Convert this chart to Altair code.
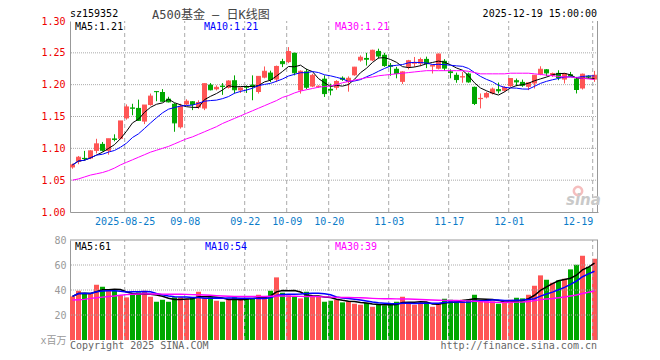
import json
import altair as alt
import pandas as pd

# ---------------- data ----------------
tick_idx = [9, 19, 29, 36, 43, 53, 63, 73, 87]
tick_lbl = ["2025-08-25", "09-08", "09-22", "10-09", "10-20", "11-03", "11-17", "12-01", "12-19"]

opens = [1.070, 1.079, 1.085, 1.084, 1.096, 1.107, 1.096, 1.1155, 1.115, 1.147,
         1.164, 1.1635, 1.142, 1.168, 1.1896, 1.1885, 1.178, 1.170, 1.133, 1.169,
         1.174, 1.164, 1.1625, 1.200, 1.1927, 1.1985, 1.195, 1.207, 1.191, 1.1975,
         1.200, 1.1885, 1.211, 1.219, 1.208, 1.237, 1.2354, 1.250, 1.191, 1.221,
         1.197, 1.1965, 1.2094, 1.1935, 1.195, 1.211, 1.204, 1.2147, 1.238, 1.242,
         1.238, 1.253, 1.247, 1.231, 1.225, 1.2044, 1.228, 1.233, 1.233, 1.2405,
         1.2285, 1.225, 1.2375, 1.221, 1.2155, 1.2115, 1.2175, 1.1966, 1.1773, 1.1799,
         1.1862, 1.193, 1.1904, 1.1976, 1.207, 1.2044, 1.1966, 1.2018, 1.2159, 1.2242,
         1.2138, 1.2185, 1.208, 1.2164, 1.2096, 1.194, 1.2138, 1.208]
highs = [1.076, 1.088, 1.096, 1.097, 1.115, 1.110, 1.115, 1.122, 1.143, 1.169,
         1.170, 1.1765, 1.168, 1.186, 1.190, 1.193, 1.181, 1.171, 1.170, 1.177,
         1.174, 1.1755, 1.202, 1.2025, 1.199, 1.2025, 1.207, 1.2146, 1.196, 1.199,
         1.2146, 1.213, 1.2286, 1.222, 1.230, 1.2406, 1.259, 1.2505, 1.2224, 1.225,
         1.217, 1.199, 1.2146, 1.2015, 1.207, 1.213, 1.213, 1.228, 1.246, 1.250,
         1.255, 1.2565, 1.250, 1.234, 1.228, 1.221, 1.239, 1.2435, 1.2425, 1.244,
         1.232, 1.249, 1.240, 1.224, 1.219, 1.220, 1.219, 1.197, 1.1862, 1.1888,
         1.1955, 1.2034, 1.1976, 1.2096, 1.2096, 1.208, 1.2034, 1.215, 1.2289, 1.2245,
         1.219, 1.2226, 1.2185, 1.220, 1.2122, 1.2174, 1.2148, 1.2216]
lows = [1.068, 1.075, 1.081, 1.083, 1.092, 1.095, 1.090, 1.111, 1.114, 1.145,
        1.152, 1.143, 1.138, 1.167, 1.174, 1.173, 1.172, 1.126, 1.131, 1.168,
        1.160, 1.162, 1.160, 1.191, 1.191, 1.184, 1.194, 1.186, 1.187, 1.187,
        1.1755, 1.186, 1.210, 1.204, 1.204, 1.2276, 1.2338, 1.2146, 1.186, 1.193,
        1.196, 1.195, 1.1807, 1.1833, 1.192, 1.206, 1.189, 1.214, 1.236, 1.230,
        1.237, 1.241, 1.228, 1.214, 1.210, 1.201, 1.224, 1.228, 1.229, 1.226,
        1.2175, 1.224, 1.222, 1.210, 1.203, 1.203, 1.203, 1.168, 1.1627, 1.1784,
        1.1846, 1.1862, 1.1888, 1.1966, 1.1976, 1.1966, 1.1914, 1.194, 1.2148, 1.2133,
        1.212, 1.207, 1.2018, 1.2123, 1.1862, 1.1924, 1.2096, 1.2044]
closes = [1.074, 1.086, 1.084, 1.096, 1.107, 1.097, 1.115, 1.114, 1.143, 1.165,
          1.163, 1.144, 1.168, 1.182, 1.189, 1.174, 1.173, 1.140, 1.166, 1.174,
          1.169, 1.172, 1.2015, 1.192, 1.1958, 1.197, 1.2057, 1.192, 1.1948, 1.196,
          1.197, 1.213, 1.221, 1.208, 1.2286, 1.233, 1.252, 1.2187, 1.221, 1.196,
          1.2146, 1.1975, 1.186, 1.1915, 1.205, 1.2085, 1.210, 1.2275, 1.243, 1.240,
          1.254, 1.245, 1.230, 1.229, 1.2175, 1.220, 1.2375, 1.2345, 1.2395, 1.233,
          1.230, 1.248, 1.226, 1.219, 1.208, 1.2125, 1.2044, 1.1705, 1.1784, 1.1862,
          1.193, 1.1904, 1.1956, 1.2096, 1.2044, 1.1992, 1.2028, 1.2148, 1.2242, 1.2185,
          1.2174, 1.2112, 1.2174, 1.2133, 1.1924, 1.2164, 1.2122, 1.2148]
volumes = [34.9, 39.4, 37.6, 36.8, 44.2, 42.6, 40.2, 39.4, 35.7, 34.1,
           36.8, 38.1, 39.4, 34.6, 30.6, 32.2, 30.6, 34.1, 34.1, 32.8,
           33.6, 38.6, 33.6, 34.1, 31.4, 30.6, 32.8, 34.1, 32.2, 33.6,
           32.8, 36.2, 34.1, 39.4, 50.1, 37.8, 35.7, 34.9, 33.3, 38.6,
           34.6, 34.6, 30.6, 31.4, 32.2, 30.1, 30.9, 29.0, 28.2, 29.6,
           26.6, 29.0, 27.7, 28.2, 30.6, 34.6, 29.6, 28.2, 29.6, 30.1,
           26.6, 28.8, 33.0, 32.2, 31.7, 32.2, 32.2, 36.2, 31.4, 30.9,
           30.9, 29.0, 29.6, 32.2, 33.8, 33.3, 36.2, 43.4, 51.7, 48.2,
           45.8, 47.7, 49.0, 56.5, 60.2, 67.4, 58.6, 65.0]
price_ma30 = [1.050, 1.052, 1.055, 1.058, 1.060, 1.062, 1.065, 1.069, 1.074, 1.078,
              1.082, 1.086, 1.090, 1.094, 1.097, 1.100, 1.103, 1.107, 1.111, 1.115,
              1.118, 1.122, 1.126, 1.130, 1.134, 1.139, 1.143, 1.147, 1.151, 1.155,
              1.159, 1.163, 1.167, 1.171, 1.175, 1.180, 1.183, 1.187, 1.190, 1.192,
              1.194, 1.196, 1.197, 1.198, 1.200, 1.203, 1.205, 1.207, 1.209, 1.211,
              1.212, 1.214, 1.215, 1.216, 1.217, 1.218, 1.219, 1.220, 1.221, 1.222,
              1.222, 1.222, 1.222, 1.222, 1.222, 1.222, 1.221, 1.219, 1.217, 1.217,
              1.217, 1.217, 1.217, 1.218, 1.218, 1.218, 1.218, 1.217, 1.216, 1.215,
              1.214, 1.213, 1.212, 1.212, 1.211, 1.210, 1.209, 1.208]
volume_ma30 = [32.0, 32.2, 32.5, 33.3, 33.8, 34.3, 34.8, 35.2, 35.8, 36.3,
               36.6, 36.8, 36.9, 36.9, 36.8, 36.7, 36.7, 36.6, 36.6, 36.5,
               36.3, 36.2, 36.0, 35.8, 35.5, 35.2, 35.0, 34.9, 34.9, 34.9,
               34.9, 34.9, 34.9, 35.0, 35.2, 35.2, 35.1, 35.0, 34.9, 34.9,
               34.8, 34.7, 34.5, 34.3, 34.1, 34.0, 34.0, 33.9, 33.8, 33.6,
               33.3, 33.1, 33.0, 33.0, 32.9, 32.9, 32.8, 32.6, 32.4, 32.2,
               32.0, 31.8, 31.7, 31.7, 31.6, 31.5, 31.3, 31.0, 30.7, 30.4,
               30.2, 30.1, 30.1, 30.2, 30.3, 30.4, 30.8, 31.5, 32.3, 32.8,
               33.2, 33.8, 34.4, 35.2, 36.0, 37.2, 38.2, 39.2]
price_ticks = [1.00, 1.05, 1.10, 1.15, 1.20, 1.25, 1.30]
volume_ticks = [0, 20, 40, 60, 80]

# ---------------- styles ----------------
RED = "#ff5555"
GREEN = "#00a800"
GRID = "#aaaaaa"
FRAME = "#999999"
BLUE_LBL = "#0a7cc9"
MAG = "#ff00ff"
MONO = "DejaVu Sans Mono, Noto Sans CJK SC"

n = len(opens)
df = pd.DataFrame({
    "i": list(range(n)), "o": opens, "h": highs, "l": lows, "c": closes,
    "v": volumes, "pma30": price_ma30, "vma30": volume_ma30,
})
df["dir"] = ["up" if c >= o else "down" for o, c in zip(opens, closes)]

HALF = 5 / 12
xs = alt.Scale(domain=[-HALF, n - HALF], nice=False, zero=False, padding=0)
py = alt.Scale(domain=[1.0, 1.3], range=[191, 0], nice=False, zero=False)
vy = alt.Scale(domain=[0, 80], range=[319, 219], nice=False, zero=False)

col = alt.Color("dir:N", scale=alt.Scale(domain=["up", "down"], range=[RED, GREEN]), legend=None)
X = alt.X("i:Q", scale=xs)

gx = [t - 0.3 for t in tick_idx]
label_expr = f"{json.dumps(tick_lbl)}[indexof({json.dumps(tick_idx)}, round(datum.value + 0.3))]"

xaxis = alt.Axis(values=gx, labelExpr=label_expr, orient="bottom", offset=-128, grid=False,
                 ticks=False, labelPadding=4, labelColor=BLUE_LBL, labelFont=MONO, labelFontSize=10,
                 domainColor=FRAME, title=None, labelFlush=10, labelOverlap=False)
yaxis_p = alt.Axis(values=price_ticks, format=".2f", orient="left", grid=False, ticks=False,
                   labelPadding=5, labelColor="#ee0000", labelFont=MONO, labelFontSize=10,
                   domainColor=FRAME, title=None)
yaxis_v = alt.Axis(values=volume_ticks, orient="left", grid=False, ticks=False, labelPadding=4,
                   labelColor="#999999", labelFont=MONO, labelFontSize=10,
                   labelExpr="datum.value == 0 ? 'x百万' : datum.label",
                   domainColor=FRAME, title=None)

grid_df = pd.DataFrame({"gx": gx, "plo": 1.0, "phi": 1.3, "vlo": 0, "vhi": 80})
edge_df = pd.DataFrame({"ex": [n - 0.5], "plo": [1.0], "phi": [1.3], "vlo": [0], "vhi": [80]})


def label(text, x, y, color="#000000", align="left", size=10, font=MONO, **kw):
    return alt.Chart(pd.DataFrame({"t": [text]})).mark_text(
        align=align, baseline="alphabetic", fontSize=size, font=font, color=color, **kw
    ).encode(x=alt.value(x), y=alt.value(y), text="t:N")


base = alt.Chart(df)

# ---------------- price panel ----------------
wick = base.mark_rule(strokeWidth=1).encode(
    x=X, y=alt.Y("l:Q", scale=py, axis=yaxis_p), y2="h:Q", color=col)
p_vgrid = alt.Chart(grid_df).mark_rule(color=GRID, strokeDash=[4, 3]).encode(
    x=alt.X("gx:Q", scale=xs, axis=xaxis),
    y=alt.Y("plo:Q", scale=py), y2="phi:Q")
p_hgrid = alt.Chart(pd.DataFrame({"p": price_ticks[1:-1]})).mark_rule(
    color=GRID, strokeDash=[1, 1]).encode(y=alt.Y("p:Q", scale=py))
p_edge = alt.Chart(edge_df).mark_rule(color=FRAME).encode(
    x=alt.X("ex:Q", scale=xs), y=alt.Y("plo:Q", scale=py), y2="phi:Q")

body = base.mark_bar(size=5).encode(
    x=X, y=alt.Y("o:Q", scale=py), y2="c:Q", color=col)
doji = base.transform_calculate(xa="datum.i - 5/12", xb="datum.i + 5/12").mark_rule(strokeWidth=1).encode(
    x=alt.X("xa:Q", scale=xs), x2="xb:Q",
    y=alt.Y("c:Q", scale=py), color=col)

ma5 = base.transform_window(m="mean(c)", frame=[-4, 0], sort=[alt.SortField("i")]).mark_line(
    color="#000000", strokeWidth=1).encode(x=X, y=alt.Y("m:Q", scale=py))
ma10 = base.transform_window(m="mean(c)", frame=[-9, 0], sort=[alt.SortField("i")]).mark_line(
    color="#0000ff", strokeWidth=1).encode(x=X, y=alt.Y("m:Q", scale=py))
ma30 = base.mark_line(color=MAG, strokeWidth=1).encode(
    x=X, y=alt.Y("pma30:Q", scale=py))

logo_ring = alt.Chart(pd.DataFrame({"t": [0]})).mark_point(
    shape="circle", size=70, filled=False, stroke="#f2a3a3", strokeWidth=2.5).encode(
    x=alt.value(508), y=alt.value(170))
logo_txt = label("sina", 496, 184, color="#c9c9c9", size=15, font="DejaVu Sans",
                 fontStyle="italic", fontWeight="bold")

price = alt.layer(
    wick, p_vgrid, p_hgrid, p_edge, logo_ring, logo_txt, body, doji, ma5, ma10, ma30,
    label("sz159352", 0, -4),
    label("A500基金 — 日K线图", 82, -2, color="#444444", size=12),
    label("2025-12-19 15:00:00", 527, -4, align="right"),
    label("MA5:1.21", 5, 9),
    label("MA10:1.21", 134, 9, color="#0000ff"),
    label("MA30:1.21", 265, 9, color=MAG),
)

# ---------------- volume panel ----------------
vbar = base.mark_bar(size=5).encode(x=X, y=alt.Y("v:Q", scale=vy, axis=yaxis_v), color=col)
v_vgrid = alt.Chart(grid_df).mark_rule(color=GRID, strokeDash=[4, 3]).encode(
    x=alt.X("gx:Q", scale=xs),
    y=alt.Y("vlo:Q", scale=vy), y2="vhi:Q")
v_hgrid = alt.Chart(pd.DataFrame({"q": volume_ticks[1:-1]})).mark_rule(
    color=GRID, strokeDash=[1, 1]).encode(y=alt.Y("q:Q", scale=vy))
v_top = alt.Chart(pd.DataFrame({"q": [volume_ticks[-1]]})).mark_rule(color=FRAME).encode(
    y=alt.Y("q:Q", scale=vy))
v_edge = alt.Chart(edge_df).mark_rule(color=FRAME).encode(
    x=alt.X("ex:Q", scale=xs), y=alt.Y("vlo:Q", scale=vy), y2="vhi:Q")

vma5 = base.transform_window(m="mean(v)", frame=[-4, 0], sort=[alt.SortField("i")]).mark_line(
    color="#000000", strokeWidth=1.5).encode(x=X, y=alt.Y("m:Q", scale=vy))
vma10 = base.transform_window(m="mean(v)", frame=[-9, 0], sort=[alt.SortField("i")]).mark_line(
    color="#0000ff", strokeWidth=1.5).encode(x=X, y=alt.Y("m:Q", scale=vy))
vma30 = base.mark_line(color=MAG, strokeWidth=1.5).encode(
    x=X, y=alt.Y("vma30:Q", scale=vy))

volume = alt.layer(
    vbar, v_hgrid, v_vgrid, vma5, vma10, vma30, v_top, v_edge,
    label("MA5:61", 5, 229),
    label("MA10:54", 135, 229, color="#0000ff"),
    label("MA30:39", 265, 229, color=MAG),
    label("Copyright 2025 SINA.COM", 0, 328, color="#666666"),
    label("http://finance.sina.com.cn", 527, 328, color="#666666", align="right"),
)

chart = alt.layer(price, volume).resolve_scale(y="independent").properties(
    width=528, height=319,
    padding={"left": 62, "top": 13, "right": 10, "bottom": 20},
    autosize=alt.AutoSizeParams(type="none"),
).configure_view(stroke=None)

chart.save("out.html", embed_options={"renderer": "svg", "actions": False})
